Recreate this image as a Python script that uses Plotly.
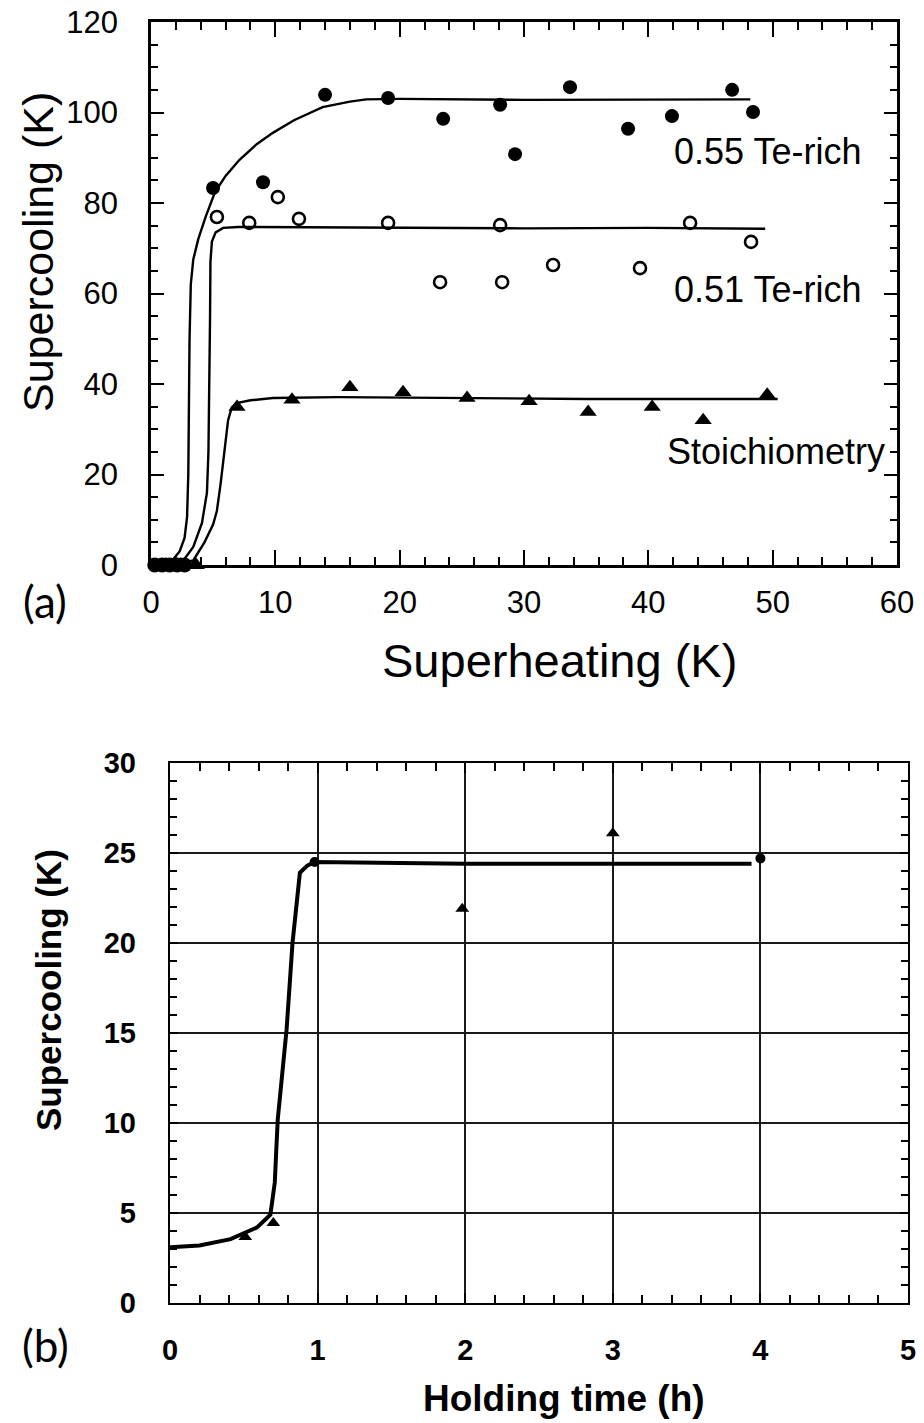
import plotly.graph_objects as go

# ---------------- Panel (a): Supercooling vs Superheating ----------------
sh_055 = [4.99, 9.01, 14.0, 19.07, 23.5, 28.08, 29.28, 33.7, 38.37, 41.9, 46.74, 48.42]
sc_055 = [83.3, 84.6, 103.9, 103.2, 98.6, 101.7, 90.8, 105.6, 96.4, 99.2, 105.0, 100.1]

sh_051 = [5.3, 7.9, 10.2, 11.9, 19.07, 23.25, 28.08, 28.24, 32.34, 39.33, 43.36, 48.26]
sc_051 = [76.9, 75.6, 81.3, 76.5, 75.6, 62.5, 75.1, 62.5, 66.3, 65.6, 75.6, 71.4]

sh_sto = [6.92, 11.34, 16.0, 20.27, 25.42, 30.41, 35.16, 40.31, 44.41, 49.56]
sc_sto = [34.9, 36.5, 39.3, 38.2, 36.9, 36.2, 33.8, 34.9, 32.0, 37.6]

# points sitting at zero supercooling (low superheating)
sh_zero_circ = [0.3, 0.9, 1.5, 2.1, 2.7]
sc_zero_circ = [0, 0, 0, 0, 0]
sh_zero_tri = [1.2, 2.4, 3.6]
sc_zero_tri = [0, 0, 0]

# fitted curves
fit055_x = [0, 1.0, 1.7, 2.3, 2.7, 2.9, 3.0, 3.05, 3.1, 3.2, 3.4, 3.8, 4.4, 5.15, 6.0, 7.1,
            8.5, 9.8, 11.5, 13.8, 16.0, 17.3, 20.0, 30.0, 40.0, 48.2]
fit055_y = [0, 0.1, 1, 3, 6, 10.6, 20, 35, 50, 62, 67.5, 72, 77, 82.4, 86, 89.5,
            93, 95.5, 98.3, 101.2, 102.4, 102.9, 103.0, 102.8, 102.9, 102.9]

fit051_x = [0, 1.5, 2.6, 3.4, 4.1, 4.5, 4.62, 4.7, 4.75, 4.78, 4.9, 5.2, 5.8, 7.0,
            20.0, 30.0, 40.0, 49.4]
fit051_y = [0, 0.1, 1, 4, 9.3, 16, 25, 40, 55, 67, 71.5, 73.5, 74.5, 74.7,
            74.6, 74.4, 74.5, 74.3]

fitsto_x = [0, 2.0, 3.4, 4.3, 5.0, 5.3, 5.6, 5.9, 6.2, 6.5, 6.9, 8.0, 9.8, 15.0,
            25.0, 35.0, 50.4]
fitsto_y = [0, 0.1, 1, 5, 9, 12, 18, 25, 32, 34.8, 35.8, 36.4, 36.9, 37.1,
            36.9, 36.7, 36.7]

labels_a = ["0.55 Te-rich", "0.51 Te-rich", "Stoichiometry"]
label_x_a = [41.9, 41.9, 41.35]
label_y_a = [91.3, 60.8, 25.0]

# ---------------- Panel (b): Supercooling vs Holding time ----------------
t_tri = [0.51, 0.70, 1.98, 3.0]
sc_tri = [3.67, 4.45, 21.9, 26.1]
t_circ = [0.98, 4.0]
sc_circ = [24.5, 24.7]

fitb_x = [0, 0.2, 0.41, 0.59, 0.68, 0.71, 0.72, 0.73, 0.79, 0.83, 0.88, 0.93, 0.98, 2.0, 3.0, 3.94]
fitb_y = [3.1, 3.2, 3.55, 4.2, 4.9, 6.7, 8.5, 10.2, 15.2, 20.0, 23.9, 24.3, 24.5, 24.4, 24.4, 24.4]

W, H = 924, 1423
FA = "Liberation Sans"

fig = go.Figure()

# panel (a) traces
for fx, fy in [(fit055_x, fit055_y), (fit051_x, fit051_y), (fitsto_x, fitsto_y)]:
    fig.add_trace(go.Scatter(x=fx, y=fy, mode="lines", line=dict(color="black", width=2.4),
                             xaxis="x", yaxis="y", showlegend=False, hoverinfo="skip"))
fig.add_trace(go.Scatter(x=sh_055, y=sc_055, mode="markers", name="0.55 Te-rich",
                         marker=dict(symbol="circle", size=14, color="black"),
                         xaxis="x", yaxis="y", showlegend=False, cliponaxis=False))
fig.add_trace(go.Scatter(x=sh_051, y=sc_051, mode="markers", name="0.51 Te-rich",
                         marker=dict(symbol="circle-open", size=12, color="black", line=dict(width=2.6)),
                         xaxis="x", yaxis="y", showlegend=False, cliponaxis=False))
fig.add_trace(go.Scatter(x=sh_sto, y=sc_sto, mode="markers", name="Stoichiometry",
                         marker=dict(symbol="triangle-up", size=15, color="black"),
                         xaxis="x", yaxis="y", showlegend=False, cliponaxis=False))
fig.add_trace(go.Scatter(x=sh_zero_circ, y=sc_zero_circ, mode="markers",
                         marker=dict(symbol="circle", size=15, color="black"),
                         xaxis="x", yaxis="y", showlegend=False, cliponaxis=False))
fig.add_trace(go.Scatter(x=sh_zero_tri, y=sc_zero_tri, mode="markers",
                         marker=dict(symbol="triangle-up", size=16, color="black"),
                         xaxis="x", yaxis="y", showlegend=False, cliponaxis=False))

# panel (b) traces
fig.add_trace(go.Scatter(x=fitb_x, y=fitb_y, mode="lines", line=dict(color="black", width=4),
                         xaxis="x2", yaxis="y2", showlegend=False, hoverinfo="skip"))
fig.add_trace(go.Scatter(x=t_tri, y=sc_tri, mode="markers",
                         marker=dict(symbol="triangle-up", size=12, color="black"),
                         xaxis="x2", yaxis="y2", showlegend=False, cliponaxis=False))
fig.add_trace(go.Scatter(x=t_circ, y=sc_circ, mode="markers",
                         marker=dict(symbol="circle", size=10, color="black"),
                         xaxis="x2", yaxis="y2", showlegend=False, cliponaxis=False))

ax_common = dict(showline=True, linecolor="black", mirror="allticks", ticks="inside",
                 tickcolor="black", zeroline=False, automargin=False, layer="above traces")

fig.update_layout(
    width=W, height=H,
    margin=dict(l=0, r=0, t=0, b=0),
    paper_bgcolor="white", plot_bgcolor="white",
    showlegend=False,
    xaxis=dict(ax_common, domain=[151 / W, 897 / W], anchor="y", range=[0, 60],
               tickmode="linear", tick0=0, dtick=10, ticklen=15, tickwidth=2.2, linewidth=2.6,
               minor=dict(dtick=2, ticklen=8, tickwidth=1.8, tickcolor="black", ticks="inside"),
               showgrid=False, ticklabelstandoff=8,
               tickfont=dict(family=FA, size=31, color="black")),
    yaxis=dict(ax_common, domain=[1 - 565 / H, 1 - 22 / H], anchor="x", range=[0, 120],
               tickmode="linear", tick0=0, dtick=20, ticklen=13, tickwidth=2.2, linewidth=2.6,
               minor=dict(dtick=5, ticklen=7, tickwidth=1.8, tickcolor="black", ticks="inside"),
               showgrid=False, ticklabelstandoff=24,
               tickfont=dict(family=FA, size=31, color="black")),
    xaxis2=dict(ax_common, domain=[170 / W, 908 / W], anchor="y2", range=[0, 5],
                tickmode="linear", tick0=0, dtick=1, ticklen=10, tickwidth=2, linewidth=2.4,
                minor=dict(dtick=0.2, ticklen=8, tickwidth=1.6, tickcolor="black", ticks="inside"),
                showgrid=True, gridcolor="#1a1a1a", gridwidth=2,
                ticklabelstandoff=20,
                tickfont=dict(family=FA, size=29, color="black", weight="bold")),
    yaxis2=dict(ax_common, domain=[1 - 1303 / H, 1 - 763 / H], anchor="x2", range=[0, 30],
                tickmode="linear", tick0=0, dtick=5, ticklen=8, tickwidth=2, linewidth=2.4,
                minor=dict(dtick=1, ticklen=7, tickwidth=1.6, tickcolor="black", ticks="inside"),
                showgrid=True, gridcolor="#1a1a1a", gridwidth=2,
                ticklabelstandoff=26,
                tickfont=dict(family=FA, size=29, color="black", weight="bold")),
)

# axis titles
def title_ann(text, px, py, size, angle=0, weight="normal"):
    fig.add_annotation(x=px / W, y=1 - py / H, xref="paper", yref="paper", text=text,
                       showarrow=False, xanchor="center", yanchor="middle", textangle=angle,
                       font=dict(family=FA, size=size, color="black", weight=weight))

title_ann("Superheating (K)", 559, 660, 47)
title_ann("Supercooling (K)", 38, 252, 43, angle=-90)
title_ann("Holding time (h)", 564, 1398, 37, weight="bold")
title_ann("Supercooling (K)", 48, 990, 35, angle=-90, weight="bold")

# series labels in panel (a)
for txt, lx, ly in zip(labels_a, label_x_a, label_y_a):
    fig.add_annotation(x=lx, y=ly, xref="x", yref="y", text=txt, showarrow=False,
                       xanchor="left", yanchor="middle",
                       font=dict(family=FA, size=36, color="black"))

# panel letters
fig.add_annotation(x=45 / W, y=1 - 601 / H, xref="paper", yref="paper", text="(a)",
                   showarrow=False, xanchor="center", yanchor="middle",
                   font=dict(family="Lato", size=44, color="black"))
fig.add_annotation(x=45 / W, y=1 - 1345 / H, xref="paper", yref="paper", text="(b)",
                   showarrow=False, xanchor="center", yanchor="middle",
                   font=dict(family="Lato", size=44, color="black"))

fig.write_html("out.html")
